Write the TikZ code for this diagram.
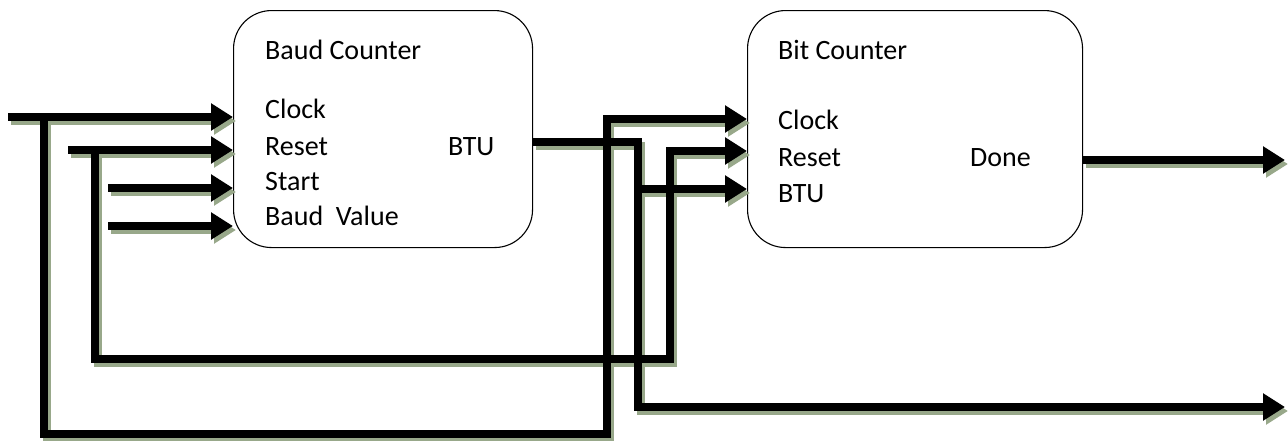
\documentclass[tikz,border=0pt]{standalone}
\usepackage{fontspec}
\setmainfont{Carlito}
\usetikzlibrary{arrows.meta}
\definecolor{shadowc}{RGB}{152,168,138}
\tikzset{
  blk/.style={draw=black, line width=1.1pt, rounded corners=38pt, fill=white,
    anchor=north west, inner sep=0pt, minimum height=237pt},
  lbl/.style={anchor=base west, inner sep=0pt, font=\fontsize{28}{32}\selectfont},
  wire/.style={line width=7.5pt, line join=miter, -{Triangle[length=22pt,width=26pt]}},
}
\newcommand\drawallwires[1]{%
  \draw[wire,#1] (clkS) -- (clkS -| baud.west);
  \draw[wire,#1] (rstS) -- (rstS -| baud.west);
  \draw[wire,#1] (stS) -- (stS -| baud.west);
  \draw[wire,#1] (bvS) -- (bvS -| baud.west);
  \draw[wire,#1] (clkJ) -- (clkB1) -- (clkB2) -- (clkU) -- (clkU -| bit.west);
  \draw[wire,#1] (rstJ) -- (rstB1) -- (rstB2) -- (rstU) -- (rstU -| bit.west);
  \draw[wire,#1] (btuO) -- (btuC) -- (btuB) -- (outB);
  \draw[wire,#1] (btuJ) -- (btuJ -| bit.west);
  \draw[wire,#1] (doneS) -- (doneE);
}
\begin{document}
\begin{tikzpicture}[x=1pt,y=-1pt]
\useasboundingbox (0,0) rectangle (1288,440);
\node[blk, minimum width=299pt] (baud) at (233,10) {};
\node[blk, minimum width=335pt] (bit) at (747,10) {};
% wire points
\coordinate (clkS) at (8,117);
\coordinate (clkJ) at (44,117);
\coordinate (clkB1) at (44,434);
\coordinate (clkB2) at (607,434);
\coordinate (clkU) at (607,119);
\coordinate (rstS) at (68,150);
\coordinate (rstJ) at (95,150);
\coordinate (rstB1) at (95,359);
\coordinate (rstB2) at (670,359);
\coordinate (rstU) at (670,151);
\coordinate (stS) at (108,188);
\coordinate (bvS) at (108,226);
\coordinate (btuO) at (baud.east |- 0,142);
\coordinate (btuC) at (638,142);
\coordinate (btuJ) at (638,189);
\coordinate (btuB) at (638,407);
\coordinate (outB) at (1285,407);
\coordinate (doneS) at (bit.east |- 0,160);
\coordinate (doneE) at (1285,160);
\begin{scope}[transform canvas={shift={(3pt,-4pt)}}]
  \drawallwires{draw=shadowc}
\end{scope}
\drawallwires{draw=black}
% labels
\node[lbl] (baudT) at (265,59) {Baud Counter};
\node[lbl] (baudClk) at (265,118) {Clock};
\node[lbl] (baudRst) at (265,155) {Reset};
\node[lbl] (baudSt) at (265,190) {Start};
\node[lbl] (baudBV) at (265,225) {Baud~ Value};
\node[lbl] (baudBTU) at (448,155) {BTU};
\node[lbl] (bitT) at (778,59) {Bit Counter};
\node[lbl] (bitClk) at (778,129) {Clock};
\node[lbl] (bitRst) at (778,166) {Reset};
\node[lbl] (bitBTU) at (778,202) {BTU};
\node[lbl] (bitDone) at (970,166) {Done};
\end{tikzpicture}
\end{document}
